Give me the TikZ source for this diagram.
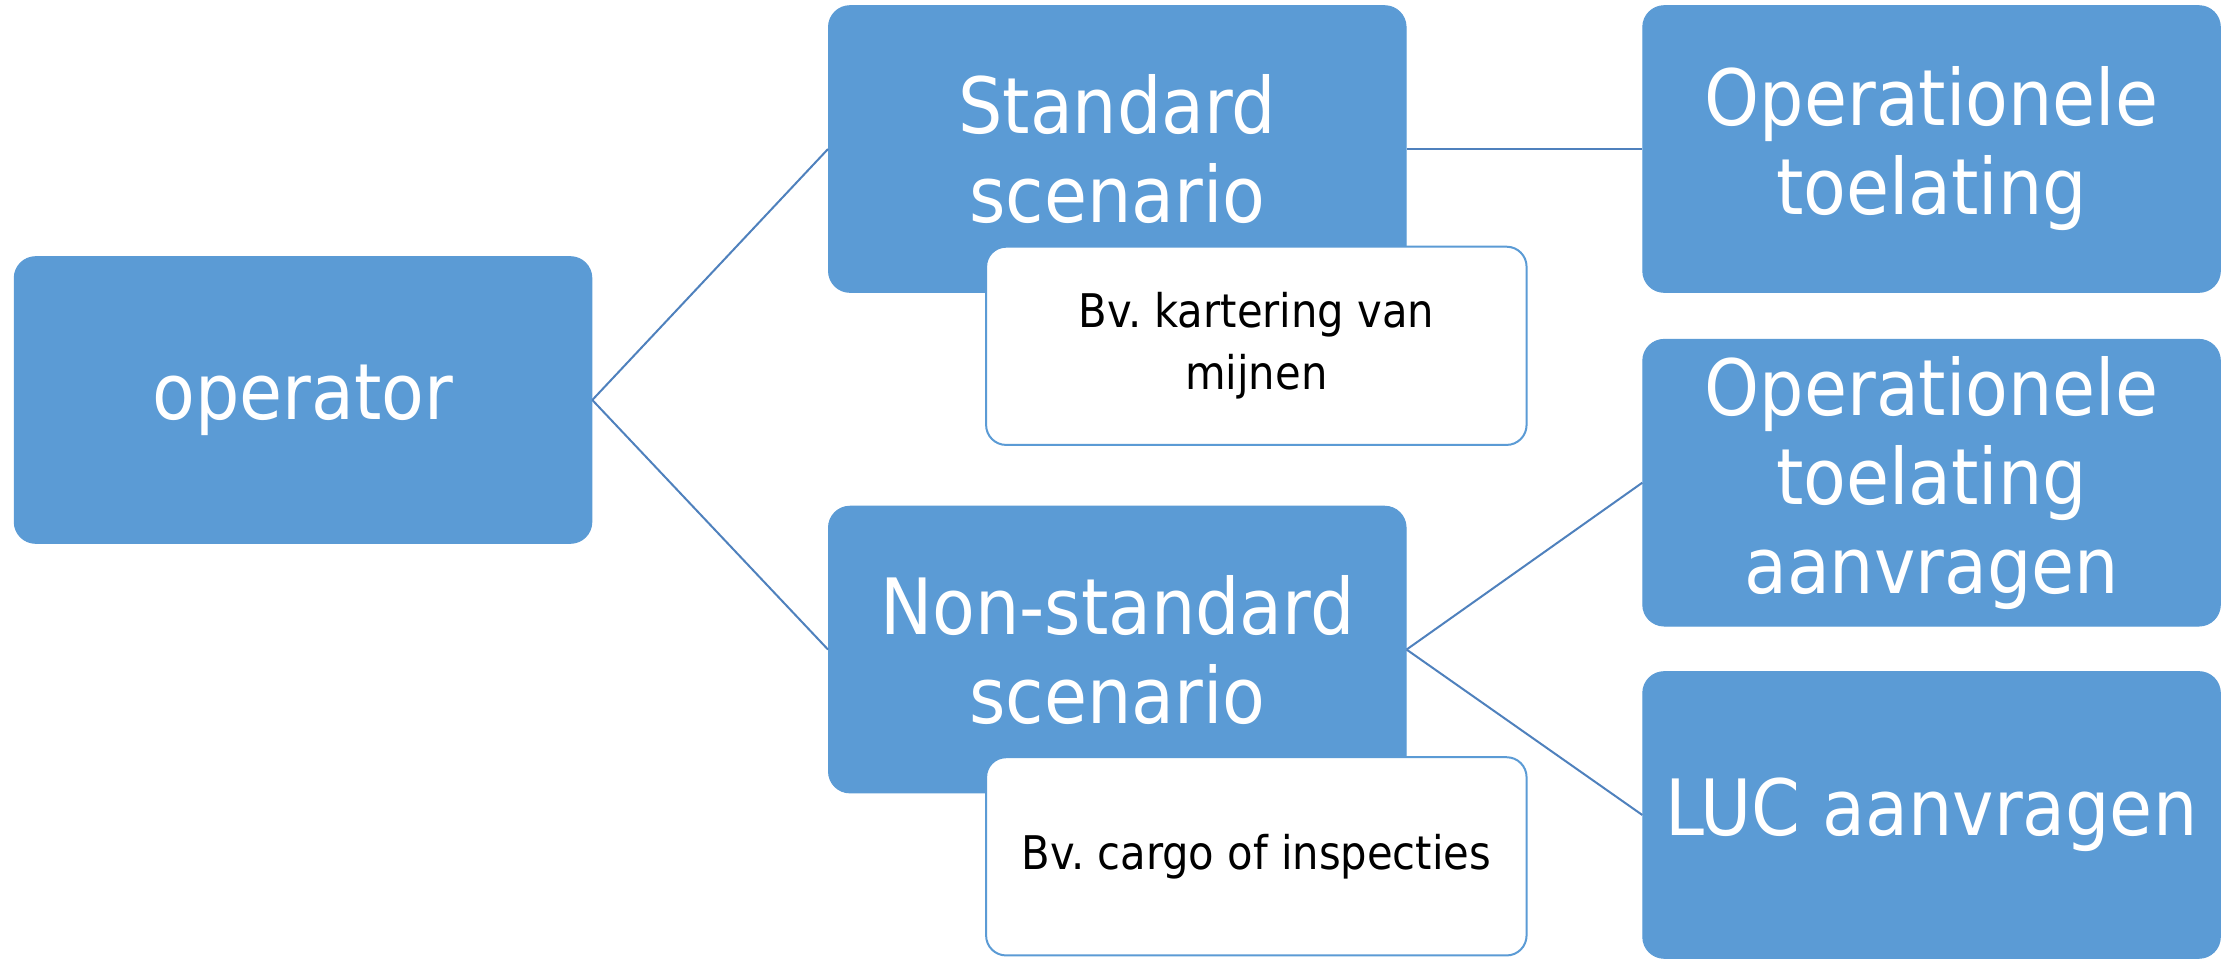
\documentclass[tikz,border=0pt]{standalone}
\usepackage{fontspec}
\setmainfont{DejaVu Sans Condensed}
\usepackage{tikz}
\usetikzlibrary{calc}
\usetikzlibrary{positioning}
\frenchspacing
\definecolor{boxblue}{HTML}{5B9BD5}
\definecolor{linkblue}{HTML}{4F81BD}
\tikzset{
  block/.style={
    rectangle,
    rounded corners=0.3cm,
    fill=boxblue,
    draw=boxblue,
    minimum height=4.02cm,
    minimum width=8.1cm,
    align=center,
    text=white,
    font=\fontsize{31}{35.5}\selectfont,
  },
  note/.style={
    rectangle,
    rounded corners=0.28cm,
    fill=white,
    draw=boxblue,
    line width=0.8pt,
    minimum height=2.78cm,
    minimum width=7.58cm,
    align=center,
    font=\fontsize{18.5}{25}\selectfont,
  },
  link/.style={
    draw=linkblue,
    line width=0.8pt
  }
}
\begin{document}
\begin{tikzpicture}[node distance=11.42cm]
\useasboundingbox (0,0) rectangle (31.36,13.44);

% linker kolom
\node[block] (op) at (4.25,7.83) {operator};

% scenario's
\node[block, right of=op, yshift=3.52cm] (s0) {Standard\\scenario};
\node[block, below of=s0, node distance=7.02cm] (s1) {Non-standard\\scenario};
\node[note] (n0) at ($(s0)+(1.95,-2.76)$) {Bv. kartering van\\mijnen};
\node[note] (n1) at ($(s1)+(1.95,-2.9)$) {Bv. cargo of inspecties};

% rechter kolom
\node[block, right of=s0] (r0) {Operationele\\toelating};
\node[block, below of=r0, node distance=4.68cm] (r1) {Operationele\\toelating\\aanvragen};
\node[block, below of=r1, node distance=4.66cm] (r2) {LUC aanvragen};

\draw[link] (op.east) -- (s0.west);
\draw[link] (op.east) -- (s1.west);
\draw[link] (s0.east) -- (r0.west);
\draw[link] (s1.east) -- (r1.west);
\draw[link] (s1.east) -- (r2.west);

\end{tikzpicture}
\end{document}
